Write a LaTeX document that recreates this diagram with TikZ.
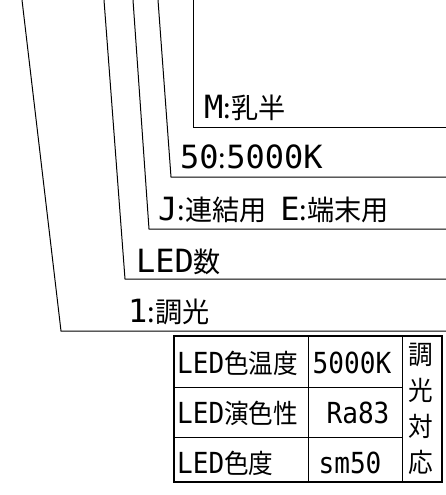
\documentclass[tikz,border=0pt]{standalone}
\usepackage{fontspec}
\setmainfont{Noto Sans CJK JP}
\newfontfamily\cjkA{Noto Sans CJK JP}[FakeStretch=0.97]
\newfontfamily\cjkB{Noto Sans CJK JP}[FakeStretch=0.93]
\newfontfamily\latA{DejaVu Sans Mono}[FakeStretch=1.0]
\newfontfamily\latB{DejaVu Sans Mono}[FakeStretch=0.9]
\newcommand\lblf{\cjkA\fontsize{28}{30}\selectfont}
\newcommand\cellf{\cjkB\fontsize{26.5}{36}\selectfont}
\newcommand\la[1]{{\latA\fontsize{32}{30}\selectfont #1}}
\newcommand\lb[1]{{\latB\fontsize{29}{30}\selectfont #1}}
\begin{document}
\begin{tikzpicture}[x=1pt,y=-1pt,
  lead/.style={line width=1pt},
  frame/.style={line width=1.3pt},
  grid/.style={line width=1pt},
  lbl/.style={anchor=base west,inner sep=0pt,font=\lblf},
  cell/.style={anchor=base,inner sep=0pt,font=\cellf},
  celll/.style={anchor=base west,inner sep=0pt,font=\cellf},
]
\useasboundingbox (0,0) rectangle (446,495);
% leader lines
\coordinate (t1) at (22,0);  \coordinate (c1) at (61,331);  \coordinate (e1) at (446,331);
\coordinate (t2) at (104,0); \coordinate (c2) at (125,279); \coordinate (e2) at (446,279);
\coordinate (t3) at (133,0); \coordinate (c3) at (149,229); \coordinate (e3) at (446,229);
\coordinate (t4) at (158,0); \coordinate (c4) at (171,177); \coordinate (e4) at (446,177);
\coordinate (t5) at (193,0); \coordinate (c5) at (193,127); \coordinate (e5) at (446,127);
\draw[lead] (t1) -- (c1) -- (e1);
\draw[lead] (t2) -- (c2) -- (e2);
\draw[lead] (t3) -- (c3) -- (e3);
\draw[lead] (t4) -- (c4) -- (e4);
\draw[lead] (t5) -- (c5) -- (e5);
% labels
\node[lbl] (m) at (204,118) {\la{M}:乳半};
\node[lbl] (k) at (180,168) {\la{50}:\la{5000K}};
\node[lbl] (j) at (158,220) {\la{J}:連結用\hspace{14pt}\la{E}:端末用};
\node[lbl] (n) at (136,272) {\la{LED}数};
\node[lbl] (d) at (128,322) {\la{1}:調光};
% table
\coordinate (tl) at (174,336); \coordinate (br) at (442,482);
\coordinate (ca) at (308,336); \coordinate (cab) at (308,482);
\coordinate (cb) at (402,336); \coordinate (cbb) at (402,482);
\coordinate (r1) at (174,387); \coordinate (r1e) at (402,387);
\coordinate (r2) at (174,437); \coordinate (r2e) at (402,437);
\draw[frame] (tl) rectangle (br);
\draw[grid] (ca) -- (cab);
\draw[grid] (cb) -- (cbb);
\draw[grid] (r1) -- (r1e);
\draw[grid] (r2) -- (r2e);
\node[celll] (a1) at (177,373) {\lb{LED}色温度};
\node[celll] (a2) at (177,423) {\lb{LED}演色性};
\node[celll] (a3) at (177,473) {\lb{LED}色度};
\node[cell] (b1) at (352,373) {\lb{5000K}};
\node[cell] (b2) at (358,423) {\lb{Ra83}};
\node[cell] (b3) at (350,473) {\lb{sm50}};
\node[inner sep=0pt,align=center,font=\cellf] (v) at (421,409) {調\\光\\対\\応};
\end{tikzpicture}
\end{document}
